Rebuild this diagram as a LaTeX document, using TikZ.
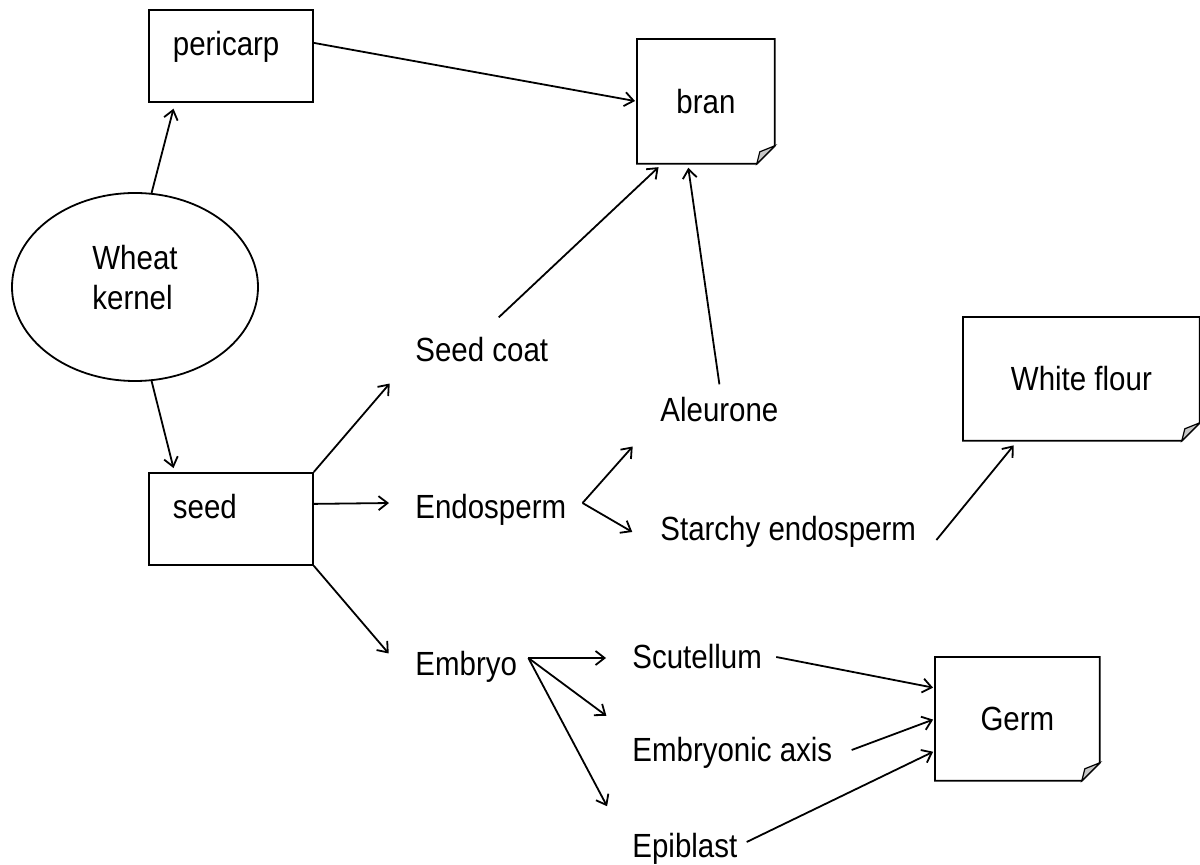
\documentclass[tikz,border=0pt]{standalone}
\usepackage{fontspec}
\setmainfont{Liberation Sans}[FakeStretch=0.88]
\usetikzlibrary{arrows.meta,shapes.geometric}

\tikzset{
  plainbox/.style={draw, line width=0.9pt, anchor=north west, minimum width=82pt,
    inner xsep=12pt, inner ysep=0pt, text width=58pt, align=left,
    text height=23pt, text depth=23pt},
  foldbox/.style={anchor=north west, inner sep=0pt},
  part/.style={anchor=base west, inner sep=0pt},
  link/.style={->, line width=0.9pt, shorten >=1pt},
}
% box outline with a turned-up bottom right corner
\newcommand\dogear[1]{%
  \draw[line width=0.9pt] (#1.north west) -- (#1.north east) -- ([yshift=9pt]#1.south east)
    -- ([xshift=-9pt]#1.south east) -- (#1.south west) -- cycle;
  \filldraw[line width=0.6pt, fill=gray!45] ([yshift=9pt]#1.south east) -- ([xshift=-9pt]#1.south east)
    -- ([xshift=-7.5pt,yshift=6pt]#1.south east) -- cycle;}

\begin{document}
\begin{tikzpicture}[x=0.5pt, y=-0.5pt, font=\fontsize{16.75}{20}\selectfont,
    >={Straight Barb[length=4.5pt,width=7pt]}]
  \useasboundingbox (0,0) rectangle (1200,865);

  % boxes
  \node[ellipse, draw, line width=0.9pt, minimum width=123pt, minimum height=94pt,
    inner sep=0pt, align=left, text depth=10pt] (kernel) at (135,287) {Wheat\\kernel};
  \node[plainbox] (pericarp) at (148,9) {pericarp};
  \node[plainbox] (seed) at (148,472) {seed};
  \node[foldbox, minimum width=68.5pt, minimum height=62pt] (bran) at (637,39) {bran};
  \node[foldbox, minimum width=118pt, minimum height=61.5pt] (flour) at (963,317) {White flour};
  \node[foldbox, minimum width=82pt, minimum height=61.5pt] (germ) at (935,657) {Germ};
  \dogear{bran}
  \dogear{flour}
  \dogear{germ}

  % parts of the seed
  \node[part] (seedcoat) at (415,362) {Seed coat};
  \node[part] (endo) at (415,519) {Endosperm};
  \node[part] (embryo) at (415,676) {Embryo};
  \node[part] (aleurone) at (660,422) {Aleurone};
  \node[part] (starchy) at (660,541) {Starchy endosperm};
  \node[part] (scut) at (632,669) {Scutellum};
  \node[part] (axis) at (632,762) {Embryonic axis};
  \node[part] (epi) at (632,857) {Epiblast};

  \coordinate (endofork) at ([xshift=8pt,yshift=8pt]endo.base east);
  \coordinate (embryofork) at ([xshift=5.5pt,yshift=9pt]embryo.base east);

  % arrows
  \draw[link] (kernel.80) -- ([xshift=13pt,yshift=-2pt]pericarp.south west);
  \draw[link] (kernel.-80) -- ([xshift=13pt,yshift=1pt]seed.north west);
  \draw[link] ([yshift=6.5pt]pericarp.east) -- (bran.west);
  \draw[link] (seed.north east) -- ([xshift=-12pt,yshift=-10pt]seedcoat.base west);
  \draw[link] ([yshift=7.5pt]seed.east) -- ([xshift=-12pt,yshift=8pt]endo.base west);
  \draw[link] (seed.south east) -- ([xshift=-12.5pt,yshift=10.5pt]embryo.base west);
  \draw[link] (endofork) -- ([xshift=-13pt,yshift=-11.5pt]aleurone.base west);
  \draw[link] (endofork) -- ([xshift=-13pt,yshift=4pt]starchy.base west);
  \draw[link] (embryofork) -- ([xshift=-12pt,yshift=5.5pt]scut.base west);
  \draw[link] (embryofork) -- ([xshift=-12pt,yshift=22.5pt]axis.base west);
  \draw[link] (embryofork) -- ([xshift=-12pt,yshift=24.5pt]epi.base west);
  \draw[link] ([xshift=8.5pt,yshift=10pt]seedcoat.north) -- ([xshift=11.5pt,yshift=-1pt]bran.south west);
  \draw[link] ([yshift=6.5pt]aleurone.north) -- ([xshift=25.5pt,yshift=-1pt]bran.south west);
  \draw[link] ([xshift=10pt,yshift=0.5pt]starchy.base east) -- ([xshift=26pt,yshift=-1.5pt]flour.south west);
  \draw[link] ([xshift=7pt,yshift=6pt]scut.base east) -- ([yshift=-15.5pt]germ.north west);
  \draw[link] ([xshift=9.5pt,yshift=6pt]axis.base east) -- (germ.west);
  \draw[link] ([xshift=4.5pt,yshift=7.5pt]epi.base east) -- ([yshift=-16pt]germ.west);
\end{tikzpicture}
\end{document}
